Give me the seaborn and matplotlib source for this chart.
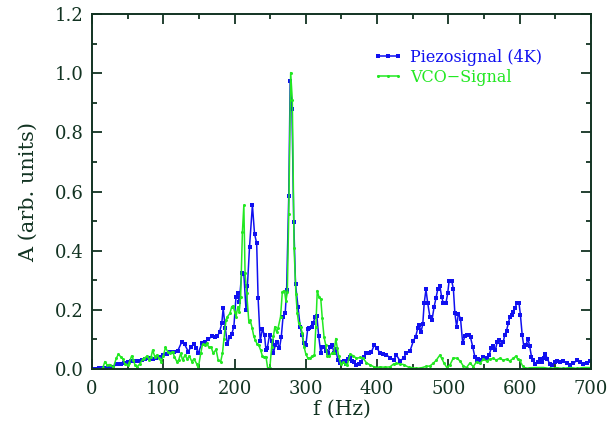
import numpy as np
import pandas as pd
import matplotlib
matplotlib.use("Agg")
import matplotlib.pyplot as plt
import seaborn as sns
from matplotlib.ticker import MultipleLocator

# ---------------- data ----------------
piezo_f = [0, 5, 10, 15, 20, 25, 30, 35, 40, 45, 50, 55, 60, 65, 70, 75, 80, 85, 90, 95,
           100, 105, 110, 115, 120, 126, 130, 135, 139, 143, 146, 149, 154, 158, 163, 168,
           172, 176, 179, 182, 184, 187, 190, 193, 196, 199, 202, 204.5, 206.5, 210, 213,
           216, 218, 221, 225, 228, 231, 233, 236, 239, 242, 244, 246, 249, 252, 254.5,
           257, 260, 263, 265.5, 268, 271, 273, 276, 278, 280.5, 283, 285.5, 289, 292,
           294.5, 297, 300, 302.5, 305, 308, 310.5, 313, 315.5, 318, 321, 323, 326, 328,
           331, 334, 337, 339.5, 342, 345, 348, 351, 353, 356, 359, 362, 365, 368, 371,
           374, 377, 381, 385, 388, 392, 396, 400, 404, 408, 413, 418, 423, 427, 432, 437,
           441, 446, 451, 454, 457, 459, 461.5, 464, 466, 468.5, 471, 474, 477, 480, 482.5,
           485, 488, 490.5, 493, 496.5, 499, 501, 504.5, 507, 509, 511.5, 514, 517, 520,
           523, 526, 529, 531, 534, 537, 539.5, 542, 545, 548, 551, 554.5, 557, 560, 563,
           566, 568.5, 571, 573.5, 577, 579, 581.5, 584, 586, 589, 591, 593.5, 596, 599,
           601, 603.5, 606, 609, 611.5, 614, 616.5, 619, 622, 625, 628, 631, 634, 636, 639,
           642, 645.5, 649, 652, 656, 661, 666, 671, 675, 681, 685, 689, 694, 698.5]
piezo_a = [0.0, 0.0, 0.002, 0.004, 0.005, 0.006, 0.008, 0.017, 0.018, 0.02, 0.024, 0.026,
           0.028, 0.028, 0.03, 0.035, 0.036, 0.035, 0.036, 0.04, 0.047, 0.05, 0.058, 0.057,
           0.06, 0.092, 0.083, 0.059, 0.075, 0.085, 0.072, 0.053, 0.087, 0.09, 0.1, 0.11,
           0.109, 0.11, 0.126, 0.154, 0.205, 0.138, 0.083, 0.109, 0.118, 0.143, 0.244, 0.258,
           0.225, 0.324, 0.322, 0.2, 0.28, 0.414, 0.554, 0.457, 0.425, 0.239, 0.095, 0.134,
           0.115, 0.064, 0.072, 0.115, 0.093, 0.053, 0.08, 0.09, 0.07, 0.108, 0.177, 0.188,
           0.267, 0.586, 0.975, 0.878, 0.498, 0.287, 0.208, 0.143, 0.115, 0.089, 0.08,
           0.134, 0.138, 0.143, 0.157, 0.177, 0.178, 0.111, 0.053, 0.075, 0.074, 0.06, 0.053,
           0.075, 0.08, 0.053, 0.066, 0.03, 0.02, 0.022, 0.028, 0.017, 0.035, 0.041, 0.028,
           0.022, 0.015, 0.017, 0.024, 0.04, 0.053, 0.055, 0.058, 0.081, 0.07, 0.053, 0.05,
           0.048, 0.038, 0.03, 0.047, 0.028, 0.036, 0.055, 0.06, 0.096, 0.109, 0.138, 0.15,
           0.125, 0.151, 0.222, 0.269, 0.222, 0.177, 0.166, 0.211, 0.239, 0.269, 0.281,
           0.243, 0.222, 0.222, 0.256, 0.299, 0.299, 0.27, 0.19, 0.143, 0.187, 0.17, 0.087,
           0.111, 0.115, 0.115, 0.107, 0.076, 0.042, 0.028, 0.035, 0.03, 0.042, 0.036, 0.036,
           0.047, 0.07, 0.077, 0.065, 0.092, 0.098, 0.081, 0.092, 0.115, 0.13, 0.154, 0.175,
           0.183, 0.194, 0.205, 0.224, 0.224, 0.183, 0.115, 0.073, 0.081, 0.103, 0.077,
           0.042, 0.03, 0.016, 0.025, 0.033, 0.025, 0.036, 0.05, 0.034, 0.017, 0.013, 0.025,
           0.028, 0.025, 0.027, 0.019, 0.013, 0.019, 0.03, 0.025, 0.017, 0.019, 0.027]

vco_f = [0, 5, 10, 15, 18, 21, 25, 30, 34, 37, 40, 43, 46, 50, 52, 55.5, 58, 60, 63.5, 67,
         71, 73.5, 77, 80, 83, 85, 88, 91, 94, 97, 100, 103, 106, 109, 113, 115.5, 119,
         121.5, 124.5, 127, 130.5, 133.5, 136.5, 140, 143, 147, 149, 152.5, 155, 158, 161,
         164, 167, 170, 174, 177, 180.5, 183, 185, 188, 190, 193.5, 196, 198, 200, 202,
         204.5, 206.5, 208.5, 211, 213, 214.7, 217, 220, 222, 224.5, 227, 229, 231.5, 234,
         236.5, 239, 241, 244, 246.5, 249.5, 252, 254.5, 256.5, 259, 261, 264.5, 267, 270,
         272, 274, 276, 278.7, 281, 283.5, 286, 288, 290, 292.5, 295, 297.5, 300, 302.5,
         305.5, 309, 312, 314, 316, 318.5, 321, 323, 325.5, 328, 330, 333, 336, 339.5, 342,
         344, 346, 349, 352.5, 355, 358, 362, 366.5, 371, 376, 380.5, 385, 390, 395, 399,
         404, 411, 418, 423, 427, 432, 437, 444, 448, 455, 462, 469, 474, 479, 483, 488,
         490.5, 494, 497.5, 502, 507, 512, 516, 521, 525.5, 530, 535, 539.5, 544, 549,
         553.5, 558, 563, 567, 572, 577, 581.5, 586, 591, 595, 597, 600, 604, 608, 614,
         624, 633, 642, 652, 661, 671, 680, 689, 698]
vco_a = [0.0, 0.0, 0.0, 0.002, 0.025, 0.014, 0.015, 0.006, 0.036, 0.05, 0.042, 0.035, 0.017,
         0.012, 0.02, 0.044, 0.032, 0.015, 0.008, 0.017, 0.033, 0.036, 0.044, 0.032, 0.042,
         0.064, 0.042, 0.047, 0.036, 0.025, 0.044, 0.073, 0.059, 0.053, 0.059, 0.042, 0.025,
         0.03, 0.053, 0.03, 0.047, 0.033, 0.044, 0.025, 0.034, 0.017, 0.002, 0.053, 0.083,
         0.08, 0.087, 0.073, 0.075, 0.053, 0.066, 0.03, 0.025, 0.053, 0.1, 0.166, 0.177,
         0.188, 0.211, 0.213, 0.194, 0.177, 0.21, 0.194, 0.244, 0.464, 0.554, 0.324, 0.256,
         0.16, 0.165, 0.14, 0.11, 0.098, 0.085, 0.08, 0.064, 0.044, 0.04, 0.042, 0.002,
         0.004, 0.075, 0.11, 0.143, 0.125, 0.138, 0.177, 0.261, 0.265, 0.229, 0.26, 0.524,
         1.002, 0.909, 0.408, 0.255, 0.188, 0.154, 0.143, 0.122, 0.075, 0.05, 0.038, 0.036,
         0.044, 0.047, 0.143, 0.265, 0.242, 0.235, 0.172, 0.108, 0.08, 0.044, 0.044, 0.053,
         0.055, 0.103, 0.072, 0.044, 0.017, 0.022, 0.017, 0.012, 0.05, 0.045, 0.036, 0.039,
         0.036, 0.021, 0.014, 0.008, 0.005, 0.007, 0.006, 0.007, 0.017, 0.019, 0.017, 0.015,
         0.006, 0.005, 0.002, 0.004, 0.009, 0.01, 0.02, 0.03, 0.047, 0.036, 0.019, 0.006,
         0.013, 0.038, 0.036, 0.028, 0.01, 0.005, 0.02, 0.008, 0.025, 0.019, 0.033, 0.027,
         0.033, 0.036, 0.03, 0.036, 0.03, 0.033, 0.027, 0.036, 0.044, 0.033, 0.03, 0.011,
         0.002, 0.004, 0.005, 0.005, 0.002, 0.004, 0.002, 0.005, 0.002, 0.005, 0.005]

series_names = ["Piezosignal (4K)", "VCO\u2212Signal"]
series_colors = ["#1010f0", "#22e822"]
x_ticks = [0, 100, 200, 300, 400, 500, 600, 700]
y_ticks = [0.0, 0.2, 0.4, 0.6, 0.8, 1.0, 1.2]

# ---------------- styling ----------------
sns.set_style("ticks")
ink = "#123322"
plt.rcParams["font.family"] = ["DejaVu Serif"]
plt.rcParams["text.color"] = ink
plt.rcParams["axes.labelcolor"] = ink
plt.rcParams["xtick.color"] = ink
plt.rcParams["ytick.color"] = ink
plt.rcParams["axes.edgecolor"] = ink

fig = plt.figure(figsize=(6.07, 4.22), dpi=100)
ax = fig.add_axes([0.1516, 0.1256, 0.822, 0.8412])

df_p = pd.DataFrame({"f": piezo_f, "A": piezo_a})
df_v = pd.DataFrame({"f": vco_f, "A": vco_a})

sns.lineplot(data=df_p, x="f", y="A", ax=ax, color=series_colors[0], lw=1.1,
             marker="s", markersize=2.8, markeredgewidth=0, sort=False,
             estimator=None, label=series_names[0])
sns.lineplot(data=df_v, x="f", y="A", ax=ax, color=series_colors[1], lw=1.1,
             marker="o", markersize=2.2, markeredgewidth=0, sort=False,
             estimator=None, label=series_names[1])

ax.set_xlim(0, 700)
ax.set_ylim(0, 1.2)
ax.set_xticks(x_ticks)
ax.set_yticks(y_ticks)
ax.set_yticklabels([f"{v:.1f}" for v in y_ticks])
ax.xaxis.set_minor_locator(MultipleLocator(50))
ax.yaxis.set_minor_locator(MultipleLocator(0.1))
ax.tick_params(which="both", direction="in", top=True, right=True,
               labelsize=13, width=1.3)
ax.tick_params(which="major", length=7)
ax.tick_params(which="minor", length=3.5)
ax.tick_params(axis="x", pad=8)
ax.tick_params(axis="y", pad=6)
for sp in ax.spines.values():
    sp.set_linewidth(1.4)

ax.set_xlabel("f (Hz)", fontsize=14.5, labelpad=1)
ax.set_ylabel("A (arb. units)", fontsize=15, labelpad=12)

leg = ax.legend(loc="upper left", bbox_to_anchor=(0.55, 0.92), frameon=False,
                fontsize=11.5, handlelength=1.9, numpoints=3, labelspacing=0.2,
                handletextpad=0.45, borderaxespad=0)
for txt, c in zip(leg.get_texts(), series_colors):
    txt.set_color(c)

fig.savefig("out.png", dpi=100)
